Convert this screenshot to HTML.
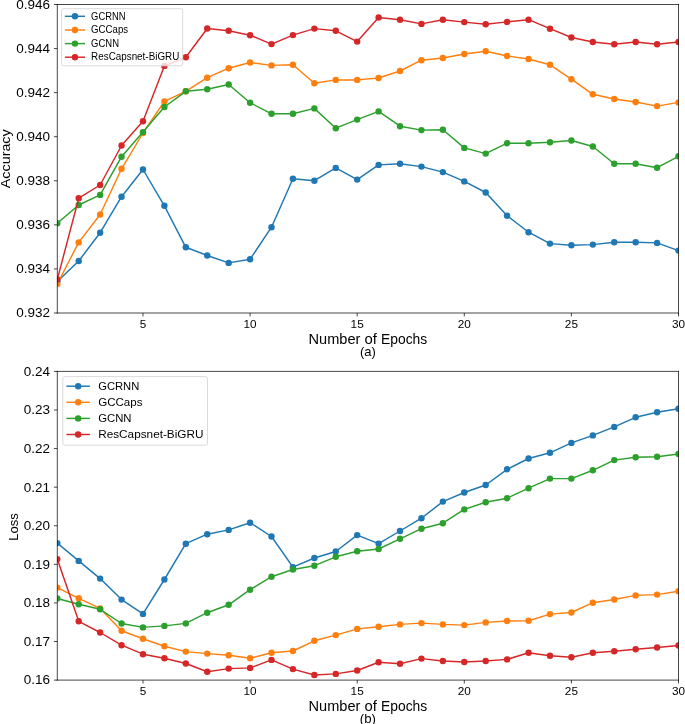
<!DOCTYPE html>
<html><head><meta charset="utf-8"><style>
html,body{margin:0;padding:0;background:#fff;width:685px;height:724px;overflow:hidden;}
svg{display:block;will-change:transform;}
text{font-family:"Liberation Sans",sans-serif;fill:#000;}
</style></head><body>
<svg width="685" height="724" viewBox="0 0 685 724">
<defs><clipPath id="c1"><rect x="57.30" y="4.50" width="621.20" height="308.50"/></clipPath><clipPath id="c2"><rect x="57.30" y="371.40" width="621.20" height="308.70"/></clipPath></defs>
<g clip-path="url(#c1)"><polyline points="57.30,281.50 78.72,261.00 100.14,232.70 121.56,196.70 142.98,169.50 164.40,205.80 185.82,247.30 207.24,255.50 228.67,262.90 250.09,259.20 271.51,227.20 292.93,178.70 314.35,180.70 335.77,167.90 357.19,179.60 378.61,164.90 400.03,163.80 421.45,166.60 442.87,172.10 464.29,181.40 485.71,192.50 507.13,215.70 528.56,232.20 549.98,243.60 571.40,245.30 592.82,244.60 614.24,242.20 635.66,242.20 657.08,242.90 678.50,250.60" fill="none" stroke="#1f77b4" stroke-width="1.45" stroke-linejoin="round" stroke-linecap="butt"/>
<circle cx="57.30" cy="281.50" r="3.2" fill="#1f77b4"/><circle cx="78.72" cy="261.00" r="3.2" fill="#1f77b4"/><circle cx="100.14" cy="232.70" r="3.2" fill="#1f77b4"/><circle cx="121.56" cy="196.70" r="3.2" fill="#1f77b4"/><circle cx="142.98" cy="169.50" r="3.2" fill="#1f77b4"/><circle cx="164.40" cy="205.80" r="3.2" fill="#1f77b4"/><circle cx="185.82" cy="247.30" r="3.2" fill="#1f77b4"/><circle cx="207.24" cy="255.50" r="3.2" fill="#1f77b4"/><circle cx="228.67" cy="262.90" r="3.2" fill="#1f77b4"/><circle cx="250.09" cy="259.20" r="3.2" fill="#1f77b4"/><circle cx="271.51" cy="227.20" r="3.2" fill="#1f77b4"/><circle cx="292.93" cy="178.70" r="3.2" fill="#1f77b4"/><circle cx="314.35" cy="180.70" r="3.2" fill="#1f77b4"/><circle cx="335.77" cy="167.90" r="3.2" fill="#1f77b4"/><circle cx="357.19" cy="179.60" r="3.2" fill="#1f77b4"/><circle cx="378.61" cy="164.90" r="3.2" fill="#1f77b4"/><circle cx="400.03" cy="163.80" r="3.2" fill="#1f77b4"/><circle cx="421.45" cy="166.60" r="3.2" fill="#1f77b4"/><circle cx="442.87" cy="172.10" r="3.2" fill="#1f77b4"/><circle cx="464.29" cy="181.40" r="3.2" fill="#1f77b4"/><circle cx="485.71" cy="192.50" r="3.2" fill="#1f77b4"/><circle cx="507.13" cy="215.70" r="3.2" fill="#1f77b4"/><circle cx="528.56" cy="232.20" r="3.2" fill="#1f77b4"/><circle cx="549.98" cy="243.60" r="3.2" fill="#1f77b4"/><circle cx="571.40" cy="245.30" r="3.2" fill="#1f77b4"/><circle cx="592.82" cy="244.60" r="3.2" fill="#1f77b4"/><circle cx="614.24" cy="242.20" r="3.2" fill="#1f77b4"/><circle cx="635.66" cy="242.20" r="3.2" fill="#1f77b4"/><circle cx="657.08" cy="242.90" r="3.2" fill="#1f77b4"/><circle cx="678.50" cy="250.60" r="3.2" fill="#1f77b4"/>
</g>
<g clip-path="url(#c1)"><polyline points="57.30,283.90 78.72,242.40 100.14,214.50 121.56,168.80 142.98,133.00 164.40,101.40 185.82,91.30 207.24,77.70 228.67,68.20 250.09,62.50 271.51,65.40 292.93,64.70 314.35,83.20 335.77,79.90 357.19,79.90 378.61,78.00 400.03,71.00 421.45,60.20 442.87,58.00 464.29,54.00 485.71,51.30 507.13,56.00 528.56,59.00 549.98,64.80 571.40,79.20 592.82,94.30 614.24,99.00 635.66,102.00 657.08,106.10 678.50,102.40" fill="none" stroke="#ff7f0e" stroke-width="1.45" stroke-linejoin="round" stroke-linecap="butt"/>
<circle cx="57.30" cy="283.90" r="3.2" fill="#ff7f0e"/><circle cx="78.72" cy="242.40" r="3.2" fill="#ff7f0e"/><circle cx="100.14" cy="214.50" r="3.2" fill="#ff7f0e"/><circle cx="121.56" cy="168.80" r="3.2" fill="#ff7f0e"/><circle cx="142.98" cy="133.00" r="3.2" fill="#ff7f0e"/><circle cx="164.40" cy="101.40" r="3.2" fill="#ff7f0e"/><circle cx="185.82" cy="91.30" r="3.2" fill="#ff7f0e"/><circle cx="207.24" cy="77.70" r="3.2" fill="#ff7f0e"/><circle cx="228.67" cy="68.20" r="3.2" fill="#ff7f0e"/><circle cx="250.09" cy="62.50" r="3.2" fill="#ff7f0e"/><circle cx="271.51" cy="65.40" r="3.2" fill="#ff7f0e"/><circle cx="292.93" cy="64.70" r="3.2" fill="#ff7f0e"/><circle cx="314.35" cy="83.20" r="3.2" fill="#ff7f0e"/><circle cx="335.77" cy="79.90" r="3.2" fill="#ff7f0e"/><circle cx="357.19" cy="79.90" r="3.2" fill="#ff7f0e"/><circle cx="378.61" cy="78.00" r="3.2" fill="#ff7f0e"/><circle cx="400.03" cy="71.00" r="3.2" fill="#ff7f0e"/><circle cx="421.45" cy="60.20" r="3.2" fill="#ff7f0e"/><circle cx="442.87" cy="58.00" r="3.2" fill="#ff7f0e"/><circle cx="464.29" cy="54.00" r="3.2" fill="#ff7f0e"/><circle cx="485.71" cy="51.30" r="3.2" fill="#ff7f0e"/><circle cx="507.13" cy="56.00" r="3.2" fill="#ff7f0e"/><circle cx="528.56" cy="59.00" r="3.2" fill="#ff7f0e"/><circle cx="549.98" cy="64.80" r="3.2" fill="#ff7f0e"/><circle cx="571.40" cy="79.20" r="3.2" fill="#ff7f0e"/><circle cx="592.82" cy="94.30" r="3.2" fill="#ff7f0e"/><circle cx="614.24" cy="99.00" r="3.2" fill="#ff7f0e"/><circle cx="635.66" cy="102.00" r="3.2" fill="#ff7f0e"/><circle cx="657.08" cy="106.10" r="3.2" fill="#ff7f0e"/><circle cx="678.50" cy="102.40" r="3.2" fill="#ff7f0e"/>
</g>
<g clip-path="url(#c1)"><polyline points="57.30,223.30 78.72,205.00 100.14,194.90 121.56,156.70 142.98,132.10 164.40,107.00 185.82,91.30 207.24,89.30 228.67,84.50 250.09,102.70 271.51,113.80 292.93,113.80 314.35,108.40 335.77,128.20 357.19,119.60 378.61,111.40 400.03,126.20 421.45,130.10 442.87,129.80 464.29,147.90 485.71,153.60 507.13,143.20 528.56,143.20 549.98,142.20 571.40,140.50 592.82,146.50 614.24,163.70 635.66,163.70 657.08,167.70 678.50,156.30" fill="none" stroke="#2ca02c" stroke-width="1.45" stroke-linejoin="round" stroke-linecap="butt"/>
<circle cx="57.30" cy="223.30" r="3.2" fill="#2ca02c"/><circle cx="78.72" cy="205.00" r="3.2" fill="#2ca02c"/><circle cx="100.14" cy="194.90" r="3.2" fill="#2ca02c"/><circle cx="121.56" cy="156.70" r="3.2" fill="#2ca02c"/><circle cx="142.98" cy="132.10" r="3.2" fill="#2ca02c"/><circle cx="164.40" cy="107.00" r="3.2" fill="#2ca02c"/><circle cx="185.82" cy="91.30" r="3.2" fill="#2ca02c"/><circle cx="207.24" cy="89.30" r="3.2" fill="#2ca02c"/><circle cx="228.67" cy="84.50" r="3.2" fill="#2ca02c"/><circle cx="250.09" cy="102.70" r="3.2" fill="#2ca02c"/><circle cx="271.51" cy="113.80" r="3.2" fill="#2ca02c"/><circle cx="292.93" cy="113.80" r="3.2" fill="#2ca02c"/><circle cx="314.35" cy="108.40" r="3.2" fill="#2ca02c"/><circle cx="335.77" cy="128.20" r="3.2" fill="#2ca02c"/><circle cx="357.19" cy="119.60" r="3.2" fill="#2ca02c"/><circle cx="378.61" cy="111.40" r="3.2" fill="#2ca02c"/><circle cx="400.03" cy="126.20" r="3.2" fill="#2ca02c"/><circle cx="421.45" cy="130.10" r="3.2" fill="#2ca02c"/><circle cx="442.87" cy="129.80" r="3.2" fill="#2ca02c"/><circle cx="464.29" cy="147.90" r="3.2" fill="#2ca02c"/><circle cx="485.71" cy="153.60" r="3.2" fill="#2ca02c"/><circle cx="507.13" cy="143.20" r="3.2" fill="#2ca02c"/><circle cx="528.56" cy="143.20" r="3.2" fill="#2ca02c"/><circle cx="549.98" cy="142.20" r="3.2" fill="#2ca02c"/><circle cx="571.40" cy="140.50" r="3.2" fill="#2ca02c"/><circle cx="592.82" cy="146.50" r="3.2" fill="#2ca02c"/><circle cx="614.24" cy="163.70" r="3.2" fill="#2ca02c"/><circle cx="635.66" cy="163.70" r="3.2" fill="#2ca02c"/><circle cx="657.08" cy="167.70" r="3.2" fill="#2ca02c"/><circle cx="678.50" cy="156.30" r="3.2" fill="#2ca02c"/>
</g>
<g clip-path="url(#c1)"><polyline points="57.30,279.40 78.72,198.20 100.14,185.00 121.56,145.50 142.98,121.30 164.40,65.90 185.82,57.30 207.24,28.50 228.67,30.80 250.09,35.20 271.51,44.10 292.93,35.10 314.35,28.60 335.77,30.80 357.19,41.60 378.61,17.50 400.03,19.70 421.45,23.90 442.87,19.70 464.29,22.10 485.71,24.20 507.13,21.90 528.56,19.70 549.98,28.70 571.40,37.50 592.82,42.00 614.24,44.30 635.66,42.00 657.08,44.30 678.50,42.00" fill="none" stroke="#d62728" stroke-width="1.45" stroke-linejoin="round" stroke-linecap="butt"/>
<circle cx="57.30" cy="279.40" r="3.2" fill="#d62728"/><circle cx="78.72" cy="198.20" r="3.2" fill="#d62728"/><circle cx="100.14" cy="185.00" r="3.2" fill="#d62728"/><circle cx="121.56" cy="145.50" r="3.2" fill="#d62728"/><circle cx="142.98" cy="121.30" r="3.2" fill="#d62728"/><circle cx="164.40" cy="65.90" r="3.2" fill="#d62728"/><circle cx="185.82" cy="57.30" r="3.2" fill="#d62728"/><circle cx="207.24" cy="28.50" r="3.2" fill="#d62728"/><circle cx="228.67" cy="30.80" r="3.2" fill="#d62728"/><circle cx="250.09" cy="35.20" r="3.2" fill="#d62728"/><circle cx="271.51" cy="44.10" r="3.2" fill="#d62728"/><circle cx="292.93" cy="35.10" r="3.2" fill="#d62728"/><circle cx="314.35" cy="28.60" r="3.2" fill="#d62728"/><circle cx="335.77" cy="30.80" r="3.2" fill="#d62728"/><circle cx="357.19" cy="41.60" r="3.2" fill="#d62728"/><circle cx="378.61" cy="17.50" r="3.2" fill="#d62728"/><circle cx="400.03" cy="19.70" r="3.2" fill="#d62728"/><circle cx="421.45" cy="23.90" r="3.2" fill="#d62728"/><circle cx="442.87" cy="19.70" r="3.2" fill="#d62728"/><circle cx="464.29" cy="22.10" r="3.2" fill="#d62728"/><circle cx="485.71" cy="24.20" r="3.2" fill="#d62728"/><circle cx="507.13" cy="21.90" r="3.2" fill="#d62728"/><circle cx="528.56" cy="19.70" r="3.2" fill="#d62728"/><circle cx="549.98" cy="28.70" r="3.2" fill="#d62728"/><circle cx="571.40" cy="37.50" r="3.2" fill="#d62728"/><circle cx="592.82" cy="42.00" r="3.2" fill="#d62728"/><circle cx="614.24" cy="44.30" r="3.2" fill="#d62728"/><circle cx="635.66" cy="42.00" r="3.2" fill="#d62728"/><circle cx="657.08" cy="44.30" r="3.2" fill="#d62728"/><circle cx="678.50" cy="42.00" r="3.2" fill="#d62728"/>
</g>
<line x1="57.30" y1="4.50" x2="57.30" y2="313.00" stroke="#000" stroke-width="0.72" stroke-linecap="square"/>
<line x1="678.50" y1="4.50" x2="678.50" y2="313.00" stroke="#000" stroke-width="0.72" stroke-linecap="square"/>
<line x1="57.30" y1="4.50" x2="678.50" y2="4.50" stroke="#000" stroke-width="0.72" stroke-linecap="square"/>
<line x1="57.30" y1="313.00" x2="678.50" y2="313.00" stroke="#000" stroke-width="0.72" stroke-linecap="square"/>
<line x1="142.98" y1="313.00" x2="142.98" y2="316.40" stroke="#000" stroke-width="0.72"/>
<line x1="250.09" y1="313.00" x2="250.09" y2="316.40" stroke="#000" stroke-width="0.72"/>
<line x1="357.19" y1="313.00" x2="357.19" y2="316.40" stroke="#000" stroke-width="0.72"/>
<line x1="464.29" y1="313.00" x2="464.29" y2="316.40" stroke="#000" stroke-width="0.72"/>
<line x1="571.40" y1="313.00" x2="571.40" y2="316.40" stroke="#000" stroke-width="0.72"/>
<line x1="678.50" y1="313.00" x2="678.50" y2="316.40" stroke="#000" stroke-width="0.72"/>
<line x1="53.90" y1="4.50" x2="57.30" y2="4.50" stroke="#000" stroke-width="0.72"/>
<line x1="53.90" y1="48.57" x2="57.30" y2="48.57" stroke="#000" stroke-width="0.72"/>
<line x1="53.90" y1="92.64" x2="57.30" y2="92.64" stroke="#000" stroke-width="0.72"/>
<line x1="53.90" y1="136.71" x2="57.30" y2="136.71" stroke="#000" stroke-width="0.72"/>
<line x1="53.90" y1="180.79" x2="57.30" y2="180.79" stroke="#000" stroke-width="0.72"/>
<line x1="53.90" y1="224.86" x2="57.30" y2="224.86" stroke="#000" stroke-width="0.72"/>
<line x1="53.90" y1="268.93" x2="57.30" y2="268.93" stroke="#000" stroke-width="0.72"/>
<line x1="53.90" y1="313.00" x2="57.30" y2="313.00" stroke="#000" stroke-width="0.72"/>
<text x="50.07" y="8.85" font-size="12.51" text-anchor="end" textLength="33.78" lengthAdjust="spacingAndGlyphs">0.946</text>
<text x="50.07" y="52.92" font-size="12.51" text-anchor="end" textLength="33.78" lengthAdjust="spacingAndGlyphs">0.944</text>
<text x="50.07" y="96.99" font-size="12.51" text-anchor="end" textLength="33.78" lengthAdjust="spacingAndGlyphs">0.942</text>
<text x="50.07" y="141.07" font-size="12.51" text-anchor="end" textLength="33.78" lengthAdjust="spacingAndGlyphs">0.940</text>
<text x="50.07" y="185.14" font-size="12.51" text-anchor="end" textLength="33.78" lengthAdjust="spacingAndGlyphs">0.938</text>
<text x="50.07" y="229.21" font-size="12.51" text-anchor="end" textLength="33.78" lengthAdjust="spacingAndGlyphs">0.936</text>
<text x="50.07" y="273.28" font-size="12.51" text-anchor="end" textLength="33.78" lengthAdjust="spacingAndGlyphs">0.934</text>
<text x="50.07" y="317.35" font-size="12.51" text-anchor="end" textLength="33.78" lengthAdjust="spacingAndGlyphs">0.932</text>
<text x="142.98" y="327.90" font-size="10.92" text-anchor="middle" textLength="6.55" lengthAdjust="spacingAndGlyphs">5</text>
<text x="250.09" y="327.90" font-size="10.92" text-anchor="middle" textLength="13.11" lengthAdjust="spacingAndGlyphs">10</text>
<text x="357.19" y="327.90" font-size="10.92" text-anchor="middle" textLength="13.11" lengthAdjust="spacingAndGlyphs">15</text>
<text x="464.29" y="327.90" font-size="10.92" text-anchor="middle" textLength="13.11" lengthAdjust="spacingAndGlyphs">20</text>
<text x="571.40" y="327.90" font-size="10.92" text-anchor="middle" textLength="13.11" lengthAdjust="spacingAndGlyphs">25</text>
<text x="678.50" y="327.90" font-size="10.92" text-anchor="middle" textLength="13.11" lengthAdjust="spacingAndGlyphs">30</text>
<text x="308.56" y="343.60" font-size="14.00" text-anchor="start" textLength="51.82" lengthAdjust="spacingAndGlyphs">Number</text>
<text x="364.48" y="343.60" font-size="14.00" text-anchor="start" textLength="12.43" lengthAdjust="spacingAndGlyphs">of</text>
<text x="381.02" y="343.60" font-size="14.00" text-anchor="start" textLength="46.22" lengthAdjust="spacingAndGlyphs">Epochs</text>
<text x="367.90" y="355.80" font-size="12.08" text-anchor="middle" textLength="15.88" lengthAdjust="spacingAndGlyphs">(a)</text>
<g transform="translate(9.50,158.75) rotate(-90)"><text x="0.00" y="0.00" font-size="13.67" text-anchor="middle" textLength="58.89" lengthAdjust="spacingAndGlyphs">Accuracy</text></g>
<rect x="61.60" y="8.70" width="121.10" height="57.10" rx="2.2" ry="2.2" fill="#fff" fill-opacity="0.8" stroke="#d6d6d6" stroke-width="0.9"/>
<line x1="64.90" y1="16.30" x2="85.00" y2="16.30" stroke="#1f77b4" stroke-width="1.45"/>
<circle cx="74.95" cy="16.30" r="3.2" fill="#1f77b4"/>
<text x="91.10" y="19.50" font-size="10.05" text-anchor="start" textLength="34.44" lengthAdjust="spacingAndGlyphs">GCRNN</text>
<line x1="64.90" y1="30.00" x2="85.00" y2="30.00" stroke="#ff7f0e" stroke-width="1.45"/>
<circle cx="74.95" cy="30.00" r="3.2" fill="#ff7f0e"/>
<text x="91.10" y="33.20" font-size="10.05" text-anchor="start" textLength="37.04" lengthAdjust="spacingAndGlyphs">GCCaps</text>
<line x1="64.90" y1="43.60" x2="85.00" y2="43.60" stroke="#2ca02c" stroke-width="1.45"/>
<circle cx="74.95" cy="43.60" r="3.2" fill="#2ca02c"/>
<text x="91.10" y="46.80" font-size="10.05" text-anchor="start" textLength="27.91" lengthAdjust="spacingAndGlyphs">GCNN</text>
<line x1="64.90" y1="57.20" x2="85.00" y2="57.20" stroke="#d62728" stroke-width="1.45"/>
<circle cx="74.95" cy="57.20" r="3.2" fill="#d62728"/>
<text x="91.10" y="60.40" font-size="10.05" text-anchor="start" textLength="88.22" lengthAdjust="spacingAndGlyphs">ResCapsnet-BiGRU</text>
<g clip-path="url(#c2)"><polyline points="57.30,543.10 78.72,560.90 100.14,578.60 121.56,599.60 142.98,613.90 164.40,579.50 185.82,543.70 207.24,534.20 228.67,529.90 250.09,522.70 271.51,536.50 292.93,567.20 314.35,558.00 335.77,551.50 357.19,535.10 378.61,543.60 400.03,531.00 421.45,518.20 442.87,501.60 464.29,492.50 485.71,485.00 507.13,469.30 528.56,458.50 549.98,452.80 571.40,442.90 592.82,435.40 614.24,426.90 635.66,417.30 657.08,412.30 678.50,408.70" fill="none" stroke="#1f77b4" stroke-width="1.45" stroke-linejoin="round" stroke-linecap="butt"/>
<circle cx="57.30" cy="543.10" r="3.2" fill="#1f77b4"/><circle cx="78.72" cy="560.90" r="3.2" fill="#1f77b4"/><circle cx="100.14" cy="578.60" r="3.2" fill="#1f77b4"/><circle cx="121.56" cy="599.60" r="3.2" fill="#1f77b4"/><circle cx="142.98" cy="613.90" r="3.2" fill="#1f77b4"/><circle cx="164.40" cy="579.50" r="3.2" fill="#1f77b4"/><circle cx="185.82" cy="543.70" r="3.2" fill="#1f77b4"/><circle cx="207.24" cy="534.20" r="3.2" fill="#1f77b4"/><circle cx="228.67" cy="529.90" r="3.2" fill="#1f77b4"/><circle cx="250.09" cy="522.70" r="3.2" fill="#1f77b4"/><circle cx="271.51" cy="536.50" r="3.2" fill="#1f77b4"/><circle cx="292.93" cy="567.20" r="3.2" fill="#1f77b4"/><circle cx="314.35" cy="558.00" r="3.2" fill="#1f77b4"/><circle cx="335.77" cy="551.50" r="3.2" fill="#1f77b4"/><circle cx="357.19" cy="535.10" r="3.2" fill="#1f77b4"/><circle cx="378.61" cy="543.60" r="3.2" fill="#1f77b4"/><circle cx="400.03" cy="531.00" r="3.2" fill="#1f77b4"/><circle cx="421.45" cy="518.20" r="3.2" fill="#1f77b4"/><circle cx="442.87" cy="501.60" r="3.2" fill="#1f77b4"/><circle cx="464.29" cy="492.50" r="3.2" fill="#1f77b4"/><circle cx="485.71" cy="485.00" r="3.2" fill="#1f77b4"/><circle cx="507.13" cy="469.30" r="3.2" fill="#1f77b4"/><circle cx="528.56" cy="458.50" r="3.2" fill="#1f77b4"/><circle cx="549.98" cy="452.80" r="3.2" fill="#1f77b4"/><circle cx="571.40" cy="442.90" r="3.2" fill="#1f77b4"/><circle cx="592.82" cy="435.40" r="3.2" fill="#1f77b4"/><circle cx="614.24" cy="426.90" r="3.2" fill="#1f77b4"/><circle cx="635.66" cy="417.30" r="3.2" fill="#1f77b4"/><circle cx="657.08" cy="412.30" r="3.2" fill="#1f77b4"/><circle cx="678.50" cy="408.70" r="3.2" fill="#1f77b4"/>
</g>
<g clip-path="url(#c2)"><polyline points="57.30,587.60 78.72,598.30 100.14,608.40 121.56,630.70 142.98,638.80 164.40,646.30 185.82,651.60 207.24,653.60 228.67,655.30 250.09,658.20 271.51,652.80 292.93,651.00 314.35,640.80 335.77,635.10 357.19,628.90 378.61,626.80 400.03,624.40 421.45,623.10 442.87,624.40 464.29,625.10 485.71,622.40 507.13,621.00 528.56,620.70 549.98,614.10 571.40,612.50 592.82,602.70 614.24,599.50 635.66,595.40 657.08,594.60 678.50,591.30" fill="none" stroke="#ff7f0e" stroke-width="1.45" stroke-linejoin="round" stroke-linecap="butt"/>
<circle cx="57.30" cy="587.60" r="3.2" fill="#ff7f0e"/><circle cx="78.72" cy="598.30" r="3.2" fill="#ff7f0e"/><circle cx="100.14" cy="608.40" r="3.2" fill="#ff7f0e"/><circle cx="121.56" cy="630.70" r="3.2" fill="#ff7f0e"/><circle cx="142.98" cy="638.80" r="3.2" fill="#ff7f0e"/><circle cx="164.40" cy="646.30" r="3.2" fill="#ff7f0e"/><circle cx="185.82" cy="651.60" r="3.2" fill="#ff7f0e"/><circle cx="207.24" cy="653.60" r="3.2" fill="#ff7f0e"/><circle cx="228.67" cy="655.30" r="3.2" fill="#ff7f0e"/><circle cx="250.09" cy="658.20" r="3.2" fill="#ff7f0e"/><circle cx="271.51" cy="652.80" r="3.2" fill="#ff7f0e"/><circle cx="292.93" cy="651.00" r="3.2" fill="#ff7f0e"/><circle cx="314.35" cy="640.80" r="3.2" fill="#ff7f0e"/><circle cx="335.77" cy="635.10" r="3.2" fill="#ff7f0e"/><circle cx="357.19" cy="628.90" r="3.2" fill="#ff7f0e"/><circle cx="378.61" cy="626.80" r="3.2" fill="#ff7f0e"/><circle cx="400.03" cy="624.40" r="3.2" fill="#ff7f0e"/><circle cx="421.45" cy="623.10" r="3.2" fill="#ff7f0e"/><circle cx="442.87" cy="624.40" r="3.2" fill="#ff7f0e"/><circle cx="464.29" cy="625.10" r="3.2" fill="#ff7f0e"/><circle cx="485.71" cy="622.40" r="3.2" fill="#ff7f0e"/><circle cx="507.13" cy="621.00" r="3.2" fill="#ff7f0e"/><circle cx="528.56" cy="620.70" r="3.2" fill="#ff7f0e"/><circle cx="549.98" cy="614.10" r="3.2" fill="#ff7f0e"/><circle cx="571.40" cy="612.50" r="3.2" fill="#ff7f0e"/><circle cx="592.82" cy="602.70" r="3.2" fill="#ff7f0e"/><circle cx="614.24" cy="599.50" r="3.2" fill="#ff7f0e"/><circle cx="635.66" cy="595.40" r="3.2" fill="#ff7f0e"/><circle cx="657.08" cy="594.60" r="3.2" fill="#ff7f0e"/><circle cx="678.50" cy="591.30" r="3.2" fill="#ff7f0e"/>
</g>
<g clip-path="url(#c2)"><polyline points="57.30,598.50 78.72,604.20 100.14,609.30 121.56,623.50 142.98,627.40 164.40,625.90 185.82,623.40 207.24,612.70 228.67,604.80 250.09,589.70 271.51,576.70 292.93,569.50 314.35,565.70 335.77,556.80 357.19,551.30 378.61,549.00 400.03,538.80 421.45,528.70 442.87,523.20 464.29,509.40 485.71,502.30 507.13,498.20 528.56,488.20 549.98,478.60 571.40,478.60 592.82,470.30 614.24,460.10 635.66,457.20 657.08,456.80 678.50,454.00" fill="none" stroke="#2ca02c" stroke-width="1.45" stroke-linejoin="round" stroke-linecap="butt"/>
<circle cx="57.30" cy="598.50" r="3.2" fill="#2ca02c"/><circle cx="78.72" cy="604.20" r="3.2" fill="#2ca02c"/><circle cx="100.14" cy="609.30" r="3.2" fill="#2ca02c"/><circle cx="121.56" cy="623.50" r="3.2" fill="#2ca02c"/><circle cx="142.98" cy="627.40" r="3.2" fill="#2ca02c"/><circle cx="164.40" cy="625.90" r="3.2" fill="#2ca02c"/><circle cx="185.82" cy="623.40" r="3.2" fill="#2ca02c"/><circle cx="207.24" cy="612.70" r="3.2" fill="#2ca02c"/><circle cx="228.67" cy="604.80" r="3.2" fill="#2ca02c"/><circle cx="250.09" cy="589.70" r="3.2" fill="#2ca02c"/><circle cx="271.51" cy="576.70" r="3.2" fill="#2ca02c"/><circle cx="292.93" cy="569.50" r="3.2" fill="#2ca02c"/><circle cx="314.35" cy="565.70" r="3.2" fill="#2ca02c"/><circle cx="335.77" cy="556.80" r="3.2" fill="#2ca02c"/><circle cx="357.19" cy="551.30" r="3.2" fill="#2ca02c"/><circle cx="378.61" cy="549.00" r="3.2" fill="#2ca02c"/><circle cx="400.03" cy="538.80" r="3.2" fill="#2ca02c"/><circle cx="421.45" cy="528.70" r="3.2" fill="#2ca02c"/><circle cx="442.87" cy="523.20" r="3.2" fill="#2ca02c"/><circle cx="464.29" cy="509.40" r="3.2" fill="#2ca02c"/><circle cx="485.71" cy="502.30" r="3.2" fill="#2ca02c"/><circle cx="507.13" cy="498.20" r="3.2" fill="#2ca02c"/><circle cx="528.56" cy="488.20" r="3.2" fill="#2ca02c"/><circle cx="549.98" cy="478.60" r="3.2" fill="#2ca02c"/><circle cx="571.40" cy="478.60" r="3.2" fill="#2ca02c"/><circle cx="592.82" cy="470.30" r="3.2" fill="#2ca02c"/><circle cx="614.24" cy="460.10" r="3.2" fill="#2ca02c"/><circle cx="635.66" cy="457.20" r="3.2" fill="#2ca02c"/><circle cx="657.08" cy="456.80" r="3.2" fill="#2ca02c"/><circle cx="678.50" cy="454.00" r="3.2" fill="#2ca02c"/>
</g>
<g clip-path="url(#c2)"><polyline points="57.30,559.10 78.72,621.30 100.14,632.50 121.56,645.20 142.98,654.20 164.40,658.30 185.82,663.50 207.24,671.70 228.67,668.60 250.09,667.90 271.51,659.90 292.93,669.10 314.35,675.00 335.77,673.90 357.19,670.50 378.61,662.30 400.03,663.70 421.45,658.60 442.87,661.00 464.29,662.00 485.71,661.00 507.13,659.40 528.56,652.80 549.98,655.70 571.40,657.30 592.82,652.80 614.24,651.20 635.66,649.20 657.08,647.50 678.50,645.50" fill="none" stroke="#d62728" stroke-width="1.45" stroke-linejoin="round" stroke-linecap="butt"/>
<circle cx="57.30" cy="559.10" r="3.2" fill="#d62728"/><circle cx="78.72" cy="621.30" r="3.2" fill="#d62728"/><circle cx="100.14" cy="632.50" r="3.2" fill="#d62728"/><circle cx="121.56" cy="645.20" r="3.2" fill="#d62728"/><circle cx="142.98" cy="654.20" r="3.2" fill="#d62728"/><circle cx="164.40" cy="658.30" r="3.2" fill="#d62728"/><circle cx="185.82" cy="663.50" r="3.2" fill="#d62728"/><circle cx="207.24" cy="671.70" r="3.2" fill="#d62728"/><circle cx="228.67" cy="668.60" r="3.2" fill="#d62728"/><circle cx="250.09" cy="667.90" r="3.2" fill="#d62728"/><circle cx="271.51" cy="659.90" r="3.2" fill="#d62728"/><circle cx="292.93" cy="669.10" r="3.2" fill="#d62728"/><circle cx="314.35" cy="675.00" r="3.2" fill="#d62728"/><circle cx="335.77" cy="673.90" r="3.2" fill="#d62728"/><circle cx="357.19" cy="670.50" r="3.2" fill="#d62728"/><circle cx="378.61" cy="662.30" r="3.2" fill="#d62728"/><circle cx="400.03" cy="663.70" r="3.2" fill="#d62728"/><circle cx="421.45" cy="658.60" r="3.2" fill="#d62728"/><circle cx="442.87" cy="661.00" r="3.2" fill="#d62728"/><circle cx="464.29" cy="662.00" r="3.2" fill="#d62728"/><circle cx="485.71" cy="661.00" r="3.2" fill="#d62728"/><circle cx="507.13" cy="659.40" r="3.2" fill="#d62728"/><circle cx="528.56" cy="652.80" r="3.2" fill="#d62728"/><circle cx="549.98" cy="655.70" r="3.2" fill="#d62728"/><circle cx="571.40" cy="657.30" r="3.2" fill="#d62728"/><circle cx="592.82" cy="652.80" r="3.2" fill="#d62728"/><circle cx="614.24" cy="651.20" r="3.2" fill="#d62728"/><circle cx="635.66" cy="649.20" r="3.2" fill="#d62728"/><circle cx="657.08" cy="647.50" r="3.2" fill="#d62728"/><circle cx="678.50" cy="645.50" r="3.2" fill="#d62728"/>
</g>
<line x1="57.30" y1="371.40" x2="57.30" y2="680.10" stroke="#000" stroke-width="0.72" stroke-linecap="square"/>
<line x1="678.50" y1="371.40" x2="678.50" y2="680.10" stroke="#000" stroke-width="0.72" stroke-linecap="square"/>
<line x1="57.30" y1="371.40" x2="678.50" y2="371.40" stroke="#000" stroke-width="0.72" stroke-linecap="square"/>
<line x1="57.30" y1="680.10" x2="678.50" y2="680.10" stroke="#000" stroke-width="0.72" stroke-linecap="square"/>
<line x1="142.98" y1="680.10" x2="142.98" y2="683.50" stroke="#000" stroke-width="0.72"/>
<line x1="250.09" y1="680.10" x2="250.09" y2="683.50" stroke="#000" stroke-width="0.72"/>
<line x1="357.19" y1="680.10" x2="357.19" y2="683.50" stroke="#000" stroke-width="0.72"/>
<line x1="464.29" y1="680.10" x2="464.29" y2="683.50" stroke="#000" stroke-width="0.72"/>
<line x1="571.40" y1="680.10" x2="571.40" y2="683.50" stroke="#000" stroke-width="0.72"/>
<line x1="678.50" y1="680.10" x2="678.50" y2="683.50" stroke="#000" stroke-width="0.72"/>
<line x1="53.90" y1="371.40" x2="57.30" y2="371.40" stroke="#000" stroke-width="0.72"/>
<line x1="53.90" y1="409.99" x2="57.30" y2="409.99" stroke="#000" stroke-width="0.72"/>
<line x1="53.90" y1="448.57" x2="57.30" y2="448.57" stroke="#000" stroke-width="0.72"/>
<line x1="53.90" y1="487.16" x2="57.30" y2="487.16" stroke="#000" stroke-width="0.72"/>
<line x1="53.90" y1="525.75" x2="57.30" y2="525.75" stroke="#000" stroke-width="0.72"/>
<line x1="53.90" y1="564.34" x2="57.30" y2="564.34" stroke="#000" stroke-width="0.72"/>
<line x1="53.90" y1="602.92" x2="57.30" y2="602.92" stroke="#000" stroke-width="0.72"/>
<line x1="53.90" y1="641.51" x2="57.30" y2="641.51" stroke="#000" stroke-width="0.72"/>
<line x1="53.90" y1="680.10" x2="57.30" y2="680.10" stroke="#000" stroke-width="0.72"/>
<text x="50.07" y="375.75" font-size="12.51" text-anchor="end" textLength="26.27" lengthAdjust="spacingAndGlyphs">0.24</text>
<text x="50.07" y="414.34" font-size="12.51" text-anchor="end" textLength="26.27" lengthAdjust="spacingAndGlyphs">0.23</text>
<text x="50.07" y="452.93" font-size="12.51" text-anchor="end" textLength="26.27" lengthAdjust="spacingAndGlyphs">0.22</text>
<text x="50.07" y="491.51" font-size="12.51" text-anchor="end" textLength="26.27" lengthAdjust="spacingAndGlyphs">0.21</text>
<text x="50.07" y="530.10" font-size="12.51" text-anchor="end" textLength="26.27" lengthAdjust="spacingAndGlyphs">0.20</text>
<text x="50.07" y="568.69" font-size="12.51" text-anchor="end" textLength="26.27" lengthAdjust="spacingAndGlyphs">0.19</text>
<text x="50.07" y="607.28" font-size="12.51" text-anchor="end" textLength="26.27" lengthAdjust="spacingAndGlyphs">0.18</text>
<text x="50.07" y="645.86" font-size="12.51" text-anchor="end" textLength="26.27" lengthAdjust="spacingAndGlyphs">0.17</text>
<text x="50.07" y="684.45" font-size="12.51" text-anchor="end" textLength="26.27" lengthAdjust="spacingAndGlyphs">0.16</text>
<text x="142.98" y="695.00" font-size="10.92" text-anchor="middle" textLength="6.55" lengthAdjust="spacingAndGlyphs">5</text>
<text x="250.09" y="695.00" font-size="10.92" text-anchor="middle" textLength="13.11" lengthAdjust="spacingAndGlyphs">10</text>
<text x="357.19" y="695.00" font-size="10.92" text-anchor="middle" textLength="13.11" lengthAdjust="spacingAndGlyphs">15</text>
<text x="464.29" y="695.00" font-size="10.92" text-anchor="middle" textLength="13.11" lengthAdjust="spacingAndGlyphs">20</text>
<text x="571.40" y="695.00" font-size="10.92" text-anchor="middle" textLength="13.11" lengthAdjust="spacingAndGlyphs">25</text>
<text x="678.50" y="695.00" font-size="10.92" text-anchor="middle" textLength="13.11" lengthAdjust="spacingAndGlyphs">30</text>
<text x="308.56" y="710.60" font-size="14.00" text-anchor="start" textLength="51.82" lengthAdjust="spacingAndGlyphs">Number</text>
<text x="364.48" y="710.60" font-size="14.00" text-anchor="start" textLength="12.43" lengthAdjust="spacingAndGlyphs">of</text>
<text x="381.02" y="710.60" font-size="14.00" text-anchor="start" textLength="46.22" lengthAdjust="spacingAndGlyphs">Epochs</text>
<text x="367.90" y="722.80" font-size="12.08" text-anchor="middle" textLength="16.13" lengthAdjust="spacingAndGlyphs">(b)</text>
<g transform="translate(18.30,526.95) rotate(-90)"><text x="0.00" y="0.00" font-size="13.67" text-anchor="middle" textLength="27.45" lengthAdjust="spacingAndGlyphs">Loss</text></g>
<rect x="62.80" y="376.60" width="144.70" height="68.60" rx="2.2" ry="2.2" fill="#fff" fill-opacity="0.8" stroke="#d6d6d6" stroke-width="0.9"/>
<line x1="66.40" y1="386.20" x2="89.90" y2="386.20" stroke="#1f77b4" stroke-width="1.45"/>
<circle cx="78.15" cy="386.20" r="3.2" fill="#1f77b4"/>
<text x="98.20" y="389.70" font-size="11.67" text-anchor="start" textLength="41.11" lengthAdjust="spacingAndGlyphs">GCRNN</text>
<line x1="66.40" y1="402.30" x2="89.90" y2="402.30" stroke="#ff7f0e" stroke-width="1.45"/>
<circle cx="78.15" cy="402.30" r="3.2" fill="#ff7f0e"/>
<text x="98.20" y="405.80" font-size="11.67" text-anchor="start" textLength="44.21" lengthAdjust="spacingAndGlyphs">GCCaps</text>
<line x1="66.40" y1="418.40" x2="89.90" y2="418.40" stroke="#2ca02c" stroke-width="1.45"/>
<circle cx="78.15" cy="418.40" r="3.2" fill="#2ca02c"/>
<text x="98.20" y="421.90" font-size="11.67" text-anchor="start" textLength="33.31" lengthAdjust="spacingAndGlyphs">GCNN</text>
<line x1="66.40" y1="434.50" x2="89.90" y2="434.50" stroke="#d62728" stroke-width="1.45"/>
<circle cx="78.15" cy="434.50" r="3.2" fill="#d62728"/>
<text x="98.20" y="438.00" font-size="11.67" text-anchor="start" textLength="105.30" lengthAdjust="spacingAndGlyphs">ResCapsnet-BiGRU</text>
</svg>
</body></html>
